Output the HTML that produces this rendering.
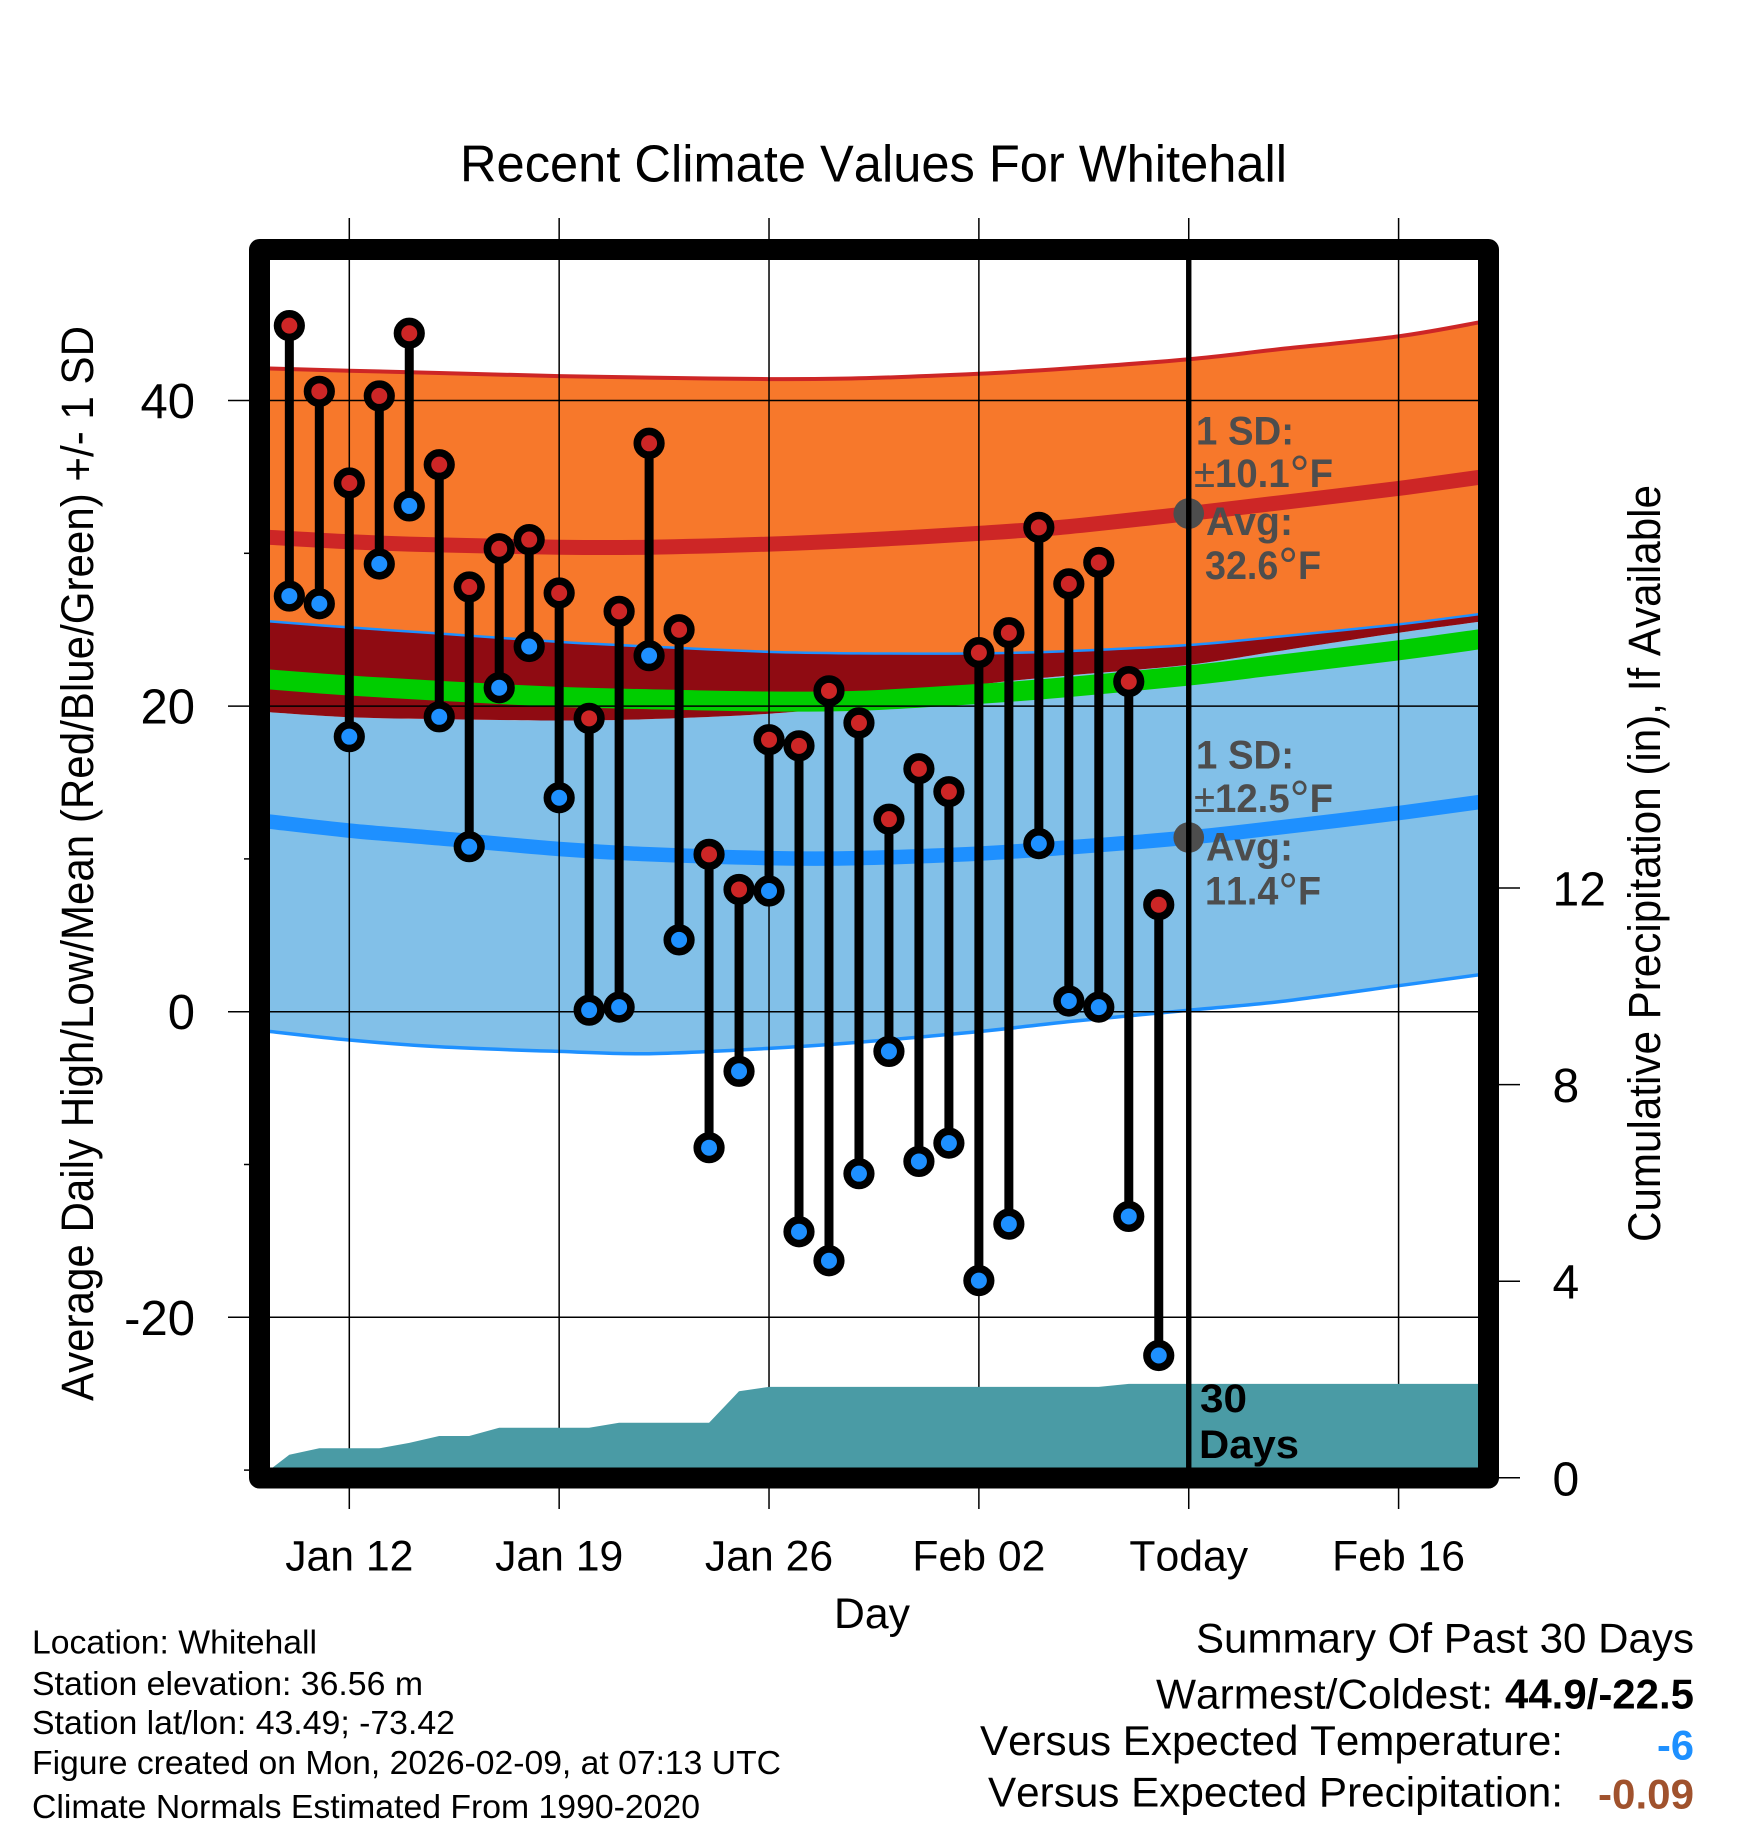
<!DOCTYPE html>
<html lang="en">
<head>
<meta charset="utf-8">
<title>Recent Climate Values For Whitehall</title>
<style>
html,body{margin:0;padding:0;background:#fff;}
svg{display:block;}
text{font-family:"Liberation Sans",Arial,sans-serif;fill:#000;font-kerning:none;}
text.note{font-weight:bold;fill:#4D4D4D;font-size:40px;}
.note tspan.thin{font-weight:normal;}
.foot{font-size:33px;}
.sum{font-size:42px;}
</style>
</head>
<body>
<svg id="chart" width="1748" height="1828" viewBox="0 0 1748 1828" xmlns="http://www.w3.org/2000/svg">
<defs><clipPath id="plot-clip"><rect x="270" y="260" width="1208.5" height="1207.5"/></clipPath></defs>
<g id="bands" clip-path="url(#plot-clip)"></g>
<g id="grid"></g>
<g id="precip" clip-path="url(#plot-clip)"></g>
<g id="today"></g>
<g id="temps"></g>
<rect x="259.5" y="249.5" width="1229" height="1228.5" fill="none" stroke="#000" stroke-width="21" stroke-linejoin="round"/>
<g id="labels"></g>

<text x="460" y="181.5" font-size="52" textLength="827" lengthAdjust="spacingAndGlyphs">Recent Climate Values For Whitehall</text>
<text transform="translate(93,1401) rotate(-90)" font-size="45" textLength="1075" lengthAdjust="spacingAndGlyphs">Average Daily High/Low/Mean (Red/Blue/Green) +/- 1 SD</text>
<text transform="translate(1660,1242) rotate(-90)" font-size="45" textLength="757" lengthAdjust="spacingAndGlyphs">Cumulative Precipitation (in), If Available</text>
<text x="872" y="1628" font-size="42.7" text-anchor="middle">Day</text>

<text class="note" x="1196" y="444.3" textLength="98" lengthAdjust="spacingAndGlyphs">1 SD:</text>
<text class="note" x="1194" y="487" textLength="139" lengthAdjust="spacingAndGlyphs"><tspan class="thin">±</tspan>10.1<tspan class="thin" font-size="52" dy="5">°</tspan><tspan dy="-5">F</tspan></text>
<text class="note" x="1206" y="535" textLength="87" lengthAdjust="spacingAndGlyphs">Avg:</text>
<text class="note" x="1205" y="579" textLength="116" lengthAdjust="spacingAndGlyphs">32.6<tspan class="thin" font-size="52" dy="5">°</tspan><tspan dy="-5">F</tspan></text>
<text class="note" x="1196" y="768.3" textLength="98" lengthAdjust="spacingAndGlyphs">1 SD:</text>
<text class="note" x="1194" y="812" textLength="139" lengthAdjust="spacingAndGlyphs"><tspan class="thin">±</tspan>12.5<tspan class="thin" font-size="52" dy="5">°</tspan><tspan dy="-5">F</tspan></text>
<text class="note" x="1206" y="860.7" textLength="87" lengthAdjust="spacingAndGlyphs">Avg:</text>
<text class="note" x="1205" y="904.3" textLength="116" lengthAdjust="spacingAndGlyphs">11.4<tspan class="thin" font-size="52" dy="5">°</tspan><tspan dy="-5">F</tspan></text>
<text x="1200" y="1412" font-size="40" font-weight="bold" textLength="47" lengthAdjust="spacingAndGlyphs">30</text>
<text x="1199" y="1458" font-size="40" font-weight="bold" textLength="100" lengthAdjust="spacingAndGlyphs">Days</text>

<text class="foot" x="32" y="1653.5" textLength="285" lengthAdjust="spacingAndGlyphs">Location: Whitehall</text>
<text class="foot" x="32" y="1695" textLength="391" lengthAdjust="spacingAndGlyphs">Station elevation: 36.56 m</text>
<text class="foot" x="32" y="1734" textLength="423" lengthAdjust="spacingAndGlyphs">Station lat/lon: 43.49; -73.42</text>
<text class="foot" x="32" y="1774" textLength="749" lengthAdjust="spacingAndGlyphs">Figure created on Mon, 2026-02-09, at 07:13 UTC</text>
<text class="foot" x="32" y="1818" textLength="668" lengthAdjust="spacingAndGlyphs">Climate Normals Estimated From 1990-2020</text>

<text class="sum" x="1196" y="1652.5" textLength="498" lengthAdjust="spacingAndGlyphs">Summary Of Past 30 Days</text>
<text class="sum" x="1156" y="1708.4" textLength="337" lengthAdjust="spacingAndGlyphs">Warmest/Coldest:</text>
<text class="sum" x="1505" y="1708.4" font-weight="bold" textLength="189" lengthAdjust="spacingAndGlyphs">44.9/-22.5</text>
<text class="sum" x="980" y="1755" textLength="583" lengthAdjust="spacingAndGlyphs">Versus Expected Temperature:</text>
<text class="sum" x="1657" y="1759.6" font-weight="bold" style="fill:#1E90FF" textLength="37" lengthAdjust="spacingAndGlyphs">-6</text>
<text class="sum" x="988" y="1806.5" textLength="575" lengthAdjust="spacingAndGlyphs">Versus Expected Precipitation:</text>
<text class="sum" x="1598" y="1808.4" font-weight="bold" style="fill:#A0522D" textLength="96" lengthAdjust="spacingAndGlyphs">-0.09</text>
</svg>

<script>
// Daily observations, Jan 10 through Feb 8 (day numbers counted from Jan 12)
const obsDays = [-2,-1,0,1,2,3,4,5,6,7,8,9,10,11,12,13,14,15,16,17,18,19,20,21,22,23,24,25,26,27];
const dailyHighs = [44.9,40.6,34.6,40.3,44.4,35.8,27.8,30.3,30.9,27.4,19.2,26.2,37.2,25.0,10.3,8.0,17.8,17.4,21.0,18.9,12.6,15.9,14.4,23.5,24.8,31.7,28.0,29.4,21.6,7.0];
const dailyLows = [27.2,26.7,18.0,29.3,33.1,19.3,10.8,21.2,23.9,14.0,0.1,0.3,23.3,4.7,-8.9,-3.9,7.9,-14.4,-16.3,-10.6,-2.6,-9.8,-8.6,-17.6,-13.9,11.0,0.7,0.3,-13.4,-22.5];

// Climate normals read at these day numbers
const normalDays = [-2.7,0,3,7,10,14,17,21,24,28,31,35,37.8];
const highMean = [31.05,30.75,30.55,30.4,30.4,30.6,30.85,31.3,31.75,32.6,33.3,34.25,35.0];
const highUpper = [42.1,41.95,41.8,41.6,41.5,41.4,41.45,41.75,42.1,42.7,43.35,44.2,45.15];
const overlapTop = [25.55,25.15,24.75,24.2,23.9,23.55,23.45,23.45,23.6,24.0,24.55,25.35,26.05];
const overlapBottom = [19.6,19.27,19.15,19.06,19.15,19.5,20.1,21.4,22.0,22.7,23.6,24.8,25.55];
const overallMean = [21.75,21.35,21.0,20.6,20.45,20.3,20.35,20.8,21.25,22.0,22.7,23.65,24.4];
const lowMean = [12.45,11.85,11.35,10.65,10.3,10.05,10.05,10.35,10.75,11.4,12.05,13.0,13.75];
const lowLower = [-1.28,-1.85,-2.3,-2.6,-2.75,-2.4,-2.0,-1.3,-0.65,0.1,0.65,1.7,2.45];

// Cumulative precipitation in inches, one value per day from Jan 9
const precipDays = [-3,-2,-1,0,1,2,3,4,5,6,7,8,9,10,11,12,13,14,15,16,17,18,19,20,21,22,23,24,25,26,27,38];
const precipValues = [0,0.47,0.6,0.6,0.6,0.71,0.85,0.85,1.02,1.02,1.02,1.02,1.12,1.12,1.12,1.12,1.76,1.85,1.85,1.85,1.85,1.85,1.85,1.85,1.85,1.85,1.85,1.85,1.85,1.91,1.91,1.91];

// Axis ticks and labels
const dateTickDays = [0,7,14,21,28,35];
const dateTickLabels = ['Jan 12','Jan 19','Jan 26','Feb 02','Today','Feb 16'];
const tempMajorTicks = [40,20,0,-20];
const tempMinorTicks = [30,10,-10,-30];
const precipTicks = [0,4,8,12];
const todayDay = 28;
const todayHighMean = 32.6;
const todayLowMean = 11.4;

function xScale(day){ return 349.3 + 29.98 * day; }
function yScale(temp){ return 1011.7 - 15.28 * temp; }
function pScale(inches){ return 1477.8 - 49.15 * inches; }

const NS = 'http://www.w3.org/2000/svg';
function svgEl(tag, attrs, parent){
  const el = document.createElementNS(NS, tag);
  for (const k in attrs) el.setAttribute(k, attrs[k]);
  parent.appendChild(el);
  return el;
}
function pts(days, values, scale){
  return days.map(function(d, i){ return xScale(d).toFixed(1) + ',' + scale(values[i]).toFixed(1); });
}
// Smooth curve segments through the scaled normal values
function curveSegments(values, reversed){
  let p = normalDays.map(function(d, i){ return [xScale(d), yScale(values[i])]; });
  if (reversed) p = p.reverse();
  let s = '';
  for (let i = 0; i < p.length - 1; i++){
    const a = p[Math.max(i - 1, 0)], b = p[i], c = p[i + 1], e = p[Math.min(i + 2, p.length - 1)];
    const c1x = b[0] + (c[0] - a[0]) / 6, c1y = b[1] + (c[1] - a[1]) / 6;
    const c2x = c[0] - (e[0] - b[0]) / 6, c2y = c[1] - (e[1] - b[1]) / 6;
    s += ' C' + c1x.toFixed(1) + ' ' + c1y.toFixed(1) + ' ' + c2x.toFixed(1) + ' ' + c2y.toFixed(1) + ' ' + c[0].toFixed(1) + ' ' + c[1].toFixed(1);
  }
  return {start: p[0], segments: s};
}
function linePath(values){
  const f = curveSegments(values, false);
  return 'M' + f.start[0].toFixed(1) + ' ' + f.start[1].toFixed(1) + f.segments;
}
function bandPath(upper, lower){
  const top = curveSegments(upper, false), bottom = curveSegments(lower, true);
  return 'M' + top.start[0].toFixed(1) + ' ' + top.start[1].toFixed(1) + top.segments +
    ' L' + bottom.start[0].toFixed(1) + ' ' + bottom.start[1].toFixed(1) + bottom.segments + ' Z';
}

const bands = document.getElementById('bands');
let el;

el = svgEl('path', {d: bandPath(overlapBottom, lowLower), fill: '#82C0E8'}, bands);



el = svgEl('path', {d: bandPath(highUpper, overlapTop), fill: '#F7782B'}, bands);



el = svgEl('path', {d: bandPath(overlapTop, overlapBottom), fill: '#8F0B12'}, bands);



el = svgEl('path', {d: linePath(highUpper), fill: 'none', stroke: '#CD2626', 'stroke-width': 4}, bands);



el = svgEl('path', {d: linePath(overlapTop), fill: 'none', stroke: '#1E90FF', 'stroke-width': 2.5}, bands);



el = svgEl('path', {d: linePath(lowLower), fill: 'none', stroke: '#1E90FF', 'stroke-width': 3.5}, bands);



el = svgEl('path', {d: linePath(overallMean), fill: 'none', stroke: '#00CD00', 'stroke-width': 20}, bands);



el = svgEl('path', {d: linePath(highMean), fill: 'none', stroke: '#CD2626', 'stroke-width': 15}, bands);



el = svgEl('path', {d: linePath(lowMean), fill: 'none', stroke: '#1E90FF', 'stroke-width': 14.5}, bands);



const grid = document.getElementById('grid');
dateTickDays.forEach(function(d){
  const line = svgEl('line', {x1: xScale(d), x2: xScale(d), y1: 218, y2: 1509, stroke: '#000', 'stroke-width': 1.5}, grid);
  
  
});
tempMajorTicks.forEach(function(t){
  const line = svgEl('line', {x1: 228, x2: 1478.5, y1: yScale(t), y2: yScale(t), stroke: '#000', 'stroke-width': 1.5}, grid);
  
  
});
tempMinorTicks.forEach(function(t){
  const line = svgEl('line', {x1: 244, x2: 250, y1: yScale(t), y2: yScale(t), stroke: '#000', 'stroke-width': 1.5}, grid);
  
  
});
precipTicks.forEach(function(p){
  const line = svgEl('line', {x1: 1498, x2: 1520, y1: pScale(p), y2: pScale(p), stroke: '#000', 'stroke-width': 1.5}, grid);
  
  
});

const precipGroup = document.getElementById('precip');
const precipPts = pts(precipDays, precipValues, pScale);
precipPts.push(xScale(precipDays[precipDays.length - 1]).toFixed(1) + ',' + pScale(0).toFixed(1));
precipPts.push(xScale(precipDays[0]).toFixed(1) + ',' + pScale(0).toFixed(1));
el = svgEl('polygon', {points: precipPts.join(' '), fill: '#4A9BA5'}, precipGroup);



const todayGroup = document.getElementById('today');
el = svgEl('circle', {cx: xScale(todayDay), cy: yScale(todayHighMean), r: 15.3, fill: '#4D4D4D'}, todayGroup);


el = svgEl('circle', {cx: xScale(todayDay), cy: yScale(todayLowMean), r: 15.3, fill: '#4D4D4D'}, todayGroup);


el = svgEl('line', {x1: xScale(todayDay), x2: xScale(todayDay), y1: 255, y2: 1470, stroke: '#000', 'stroke-width': 5.4}, todayGroup);



const temps = document.getElementById('temps');
obsDays.forEach(function(d, i){
  const x = xScale(d), yHi = yScale(dailyHighs[i]), yLo = yScale(dailyLows[i]);
  const stem = svgEl('line', {x1: x, x2: x, y1: yHi, y2: yLo, stroke: '#000', 'stroke-width': 9}, temps);
  
  
  const low = svgEl('circle', {cx: x, cy: yLo, r: 11.8, fill: '#1E90FF', stroke: '#000', 'stroke-width': 7.6}, temps);
  
  
  const high = svgEl('circle', {cx: x, cy: yHi, r: 11.8, fill: '#CD2626', stroke: '#000', 'stroke-width': 7.6}, temps);
  
  
});

const labels = document.getElementById('labels');
dateTickDays.forEach(function(d, i){
  const t = svgEl('text', {x: xScale(d), y: 1570.4, 'font-size': 42.7, 'text-anchor': 'middle'}, labels);
  
  
  t.textContent = dateTickLabels[i];
});
tempMajorTicks.forEach(function(v){
  const t = svgEl('text', {x: 195, y: yScale(v) + 17.5, 'font-size': 49, 'text-anchor': 'end'}, labels);
  
  
  t.textContent = String(v);
});
precipTicks.forEach(function(v){
  const t = svgEl('text', {x: 1552.5, y: pScale(v) + 17.5, 'font-size': 48}, labels);
  
  
  t.textContent = String(v);
});
</script>
</body>
</html>
